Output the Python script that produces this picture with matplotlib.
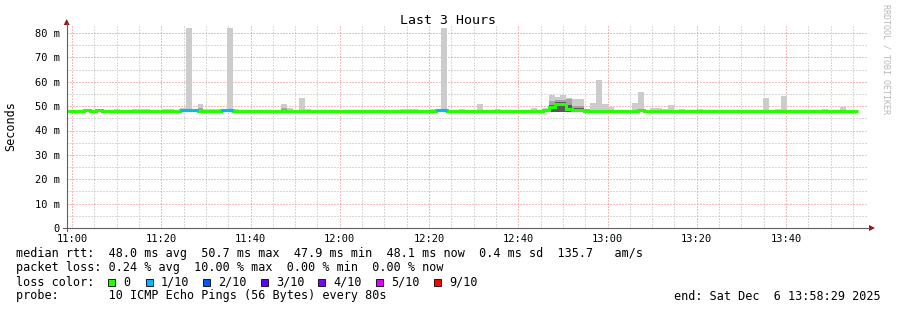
import matplotlib
matplotlib.use('Agg')
import matplotlib.pyplot as plt
from matplotlib.patches import Polygon, Rectangle
from matplotlib.lines import Line2D
from matplotlib.transforms import IdentityTransform

# time axis: minutes after 11:00, one value every 80 s
start_min = -1.2
step_min = 80 / 60.0

median = [
    48.0, 48.0, 48.0, 48.3, 48.0, 48.3, 48.0, 48.0, 48.0, 48.0,
    48.0, 48.0, 48.0, 48.0, 48.0, 48.0, 48.0, 48.0, 48.0, 48.3,
    48.3, 48.3, 47.8, 47.8, 47.8, 47.8, 48.3, 48.3, 48.0, 47.8,
    47.8, 47.8, 47.8, 48.0, 47.8, 47.8, 48.0, 47.8, 48.0, 47.8,
    47.8, 48.0, 47.8, 47.8, 48.0, 48.0, 48.0, 48.0, 48.0, 48.0,
    48.0, 47.8, 48.0, 48.0, 48.0, 47.8, 47.8, 47.8, 47.8, 48.0,
    48.0, 47.8, 48.3, 48.3, 48.0, 48.0, 48.0, 47.8, 48.0, 48.0,
    48.0, 48.0, 48.0, 47.8, 47.8, 48.0, 48.0, 47.8, 47.8, 48.0,
    48.3, 49.6, 50.7, 50.7, 48.8, 48.3, 48.6, 48.0, 48.0, 48.0,
    48.0, 47.8, 47.8, 48.0, 48.0, 48.0, 48.3, 47.8, 48.0, 47.8,
    47.8, 48.0, 48.0, 48.0, 47.8, 48.0, 48.0, 47.8, 48.0, 48.0,
    48.0, 48.0, 48.0, 48.0, 48.0, 48.0, 48.0, 48.0, 47.8, 48.0,
    48.0, 48.0, 48.0, 48.0, 48.0, 48.0, 48.0, 48.0, 48.0, 48.0,
    48.0, 48.0, 48.0,
]

smoke_hi = [
    48.3, 48.3, 48.3, 48.3, 48.3, 48.3, 48.3, 48.3, 48.8, 48.3,
    48.3, 48.7, 48.7, 48.7, 48.3, 48.3, 48.7, 48.7, 48.3, 49.2,
    82.0, 48.8, 50.9, 48.7, 48.7, 48.7, 48.3, 82.0, 48.8, 48.3,
    48.3, 48.3, 48.3, 48.3, 48.3, 48.3, 51.0, 49.2, 48.3, 53.3,
    49.0, 48.3, 48.3, 48.3, 48.3, 48.3, 48.3, 48.3, 48.3, 48.3,
    48.3, 48.3, 48.3, 48.3, 48.3, 48.3, 48.7, 48.7, 48.7, 48.3,
    48.3, 48.7, 48.3, 82.0, 48.3, 48.3, 48.8, 48.3, 48.3, 50.8,
    48.3, 48.3, 48.8, 48.3, 48.3, 48.3, 48.3, 48.3, 49.2, 48.3,
    49.2, 54.5, 53.8, 54.5, 53.5, 53.0, 53.0, 48.8, 51.2, 60.6,
    50.8, 49.6, 48.3, 48.3, 48.3, 51.2, 55.7, 48.3, 49.2, 49.2,
    48.8, 50.4, 48.3, 48.8, 48.3, 48.3, 48.8, 48.3, 48.3, 48.3,
    48.3, 48.3, 48.3, 48.3, 48.3, 48.3, 48.3, 53.3, 48.3, 48.8,
    54.1, 48.3, 48.3, 48.3, 48.3, 48.3, 48.3, 48.8, 48.3, 48.3,
    49.6, 48.3, 48.3,
]
smoke_lo = 47.6

mid_steps = [22, 36, 80, 81, 82, 83, 84, 85, 86, 87]
mid_hi = [49.2, 49.2, 48.8, 52.2, 52.5, 52.5, 53.0, 50.0, 50.0, 49.0]
dark_steps = [81, 82, 83, 84, 85, 86]
dark_hi = [50.4, 51.8, 51.8, 50.4, 49.2, 49.2]

loss_steps = [19, 20, 21, 26, 27, 62, 63]
loss_count = [1, 1, 1, 1, 1, 1, 1]

loss_labels = ['0', '1/10', '2/10', '3/10', '4/10', '5/10', '9/10']
loss_colors = ['#26ff00', '#00b8ff', '#0059ff', '#5e00ff', '#7e00ff', '#dd00ff', '#ff0000']
loss_index = {0: 0, 1: 1, 2: 2, 3: 3, 4: 4, 5: 5, 9: 6}

xticks = [0, 20, 40, 60, 80, 100, 120, 140, 160]
xticklabels = ['11:00', '11:20', '11:40', '12:00', '12:20', '12:40', '13:00', '13:20', '13:40']
yticks = [0, 10, 20, 30, 40, 50, 60, 70, 80]
yticklabels = ['0', '10 m', '20 m', '30 m', '40 m', '50 m', '60 m', '70 m', '80 m']

W, H = 897, 310
MONO = 'DejaVu Sans Mono'
plt.rcParams['font.family'] = MONO

fig = plt.figure(figsize=(W / 100, H / 100), dpi=100)
fig.patch.set_facecolor('white')


def fx(x):
    return x / W


def fy(y):
    return 1 - y / H


ax = fig.add_axes([fx(66.7), fy(228), (868 - 66.7) / W, (228 - 26) / H])
ax.set_xlim((66.7 - 72) / 4.4625, (868 - 72) / 4.4625)
ax.set_ylim(0, 202 / 2.4375)
for s in ax.spines.values():
    s.set_visible(False)

n = len(median)
starts = [start_min + k * step_min for k in range(n)]
edges = starts + [start_min + n * step_min]

# smoke
ax.bar(starts, [h - smoke_lo for h in smoke_hi], bottom=smoke_lo, width=step_min,
       align='edge', color='#cccccc', linewidth=0, zorder=2)
ax.bar([starts[k] for k in mid_steps], [h - smoke_lo for h in mid_hi], bottom=smoke_lo,
       width=step_min, align='edge', color='#a4a4a4', linewidth=0, zorder=3)
ax.bar([starts[k] for k in dark_steps], [h - smoke_lo for h in dark_hi], bottom=smoke_lo,
       width=step_min, align='edge', color='#585858', linewidth=0, zorder=4)

# median line coloured by loss
ax.stairs(median, edges, baseline=None, color=loss_colors[0], linewidth=2.2, zorder=5)
for k, c in zip(loss_steps, loss_count):
    ax.hlines(median[k], starts[k], starts[k] + step_min, color=loss_colors[loss_index[c]],
              linewidth=2.2, zorder=6, capstyle='butt')

# grid
ax.set_xticks(xticks)
ax.set_xticklabels(xticklabels)
ax.set_xticks(range(0, 180, 5), minor=True)
ax.set_yticks(yticks)
ax.set_yticklabels(yticklabels)
ax.set_yticks(range(5, 80, 10), minor=True)
ax.grid(which='minor', color='#b4b4b4', linestyle=(0, (1, 2)), linewidth=0.72, zorder=0)
ax.grid(which='major', color='#e87878', linestyle=(0, (1, 2)), linewidth=0.72, zorder=0)
ax.set_axisbelow(True)
ax.tick_params(which='both', length=0)
ax.tick_params(axis='y', pad=5, labelsize=7.5)
ax.tick_params(axis='x', pad=4, labelsize=7.5)

# axis lines and arrows in pixel space
idt = IdentityTransform()
fig.add_artist(Line2D([66.7, 66.7], [H - 231, H - 23], color='#606060', linewidth=0.8, transform=idt))
fig.add_artist(Line2D([63, 869], [H - 228, H - 228], color='#606060', linewidth=0.8, transform=idt))
fig.add_artist(Polygon([[63.7, H - 25], [69.7, H - 25], [66.7, H - 19]], closed=True,
                       facecolor='#8b1a1a', edgecolor='none', transform=idt))
fig.add_artist(Polygon([[869, H - 225], [869, H - 231], [875, H - 228]], closed=True,
                       facecolor='#8b1a1a', edgecolor='none', transform=idt))

# titles
fig.text(fx(448), fy(20), 'Last 3 Hours', ha='center', va='center', fontsize=9.5)
fig.text(fx(11), fy(126), 'Seconds', ha='center', va='center', rotation=90, fontsize=8.5)
fig.text(fx(886), fy(4), 'RRDTOOL / TOBI OETIKER', ha='center', va='top', rotation=270,
         fontsize=6, color='#b8b8b8')

# legend / stats block
fs = 8.5
fig.text(fx(16), fy(254), 'median rtt:  48.0 ms avg  50.7 ms max  47.9 ms min  48.1 ms now  0.4 ms sd  135.7   am/s',
         ha='left', va='center', fontsize=fs)
fig.text(fx(16), fy(268), 'packet loss: 0.24 % avg  10.00 % max  0.00 % min  0.00 % now',
         ha='left', va='center', fontsize=fs)
fig.text(fx(16), fy(282), 'loss color:', ha='left', va='center', fontsize=fs)
sq_x = [108, 145.7, 202.7, 261, 318, 376, 434]
for x0, lab, col in zip(sq_x, loss_labels, loss_colors):
    fig.add_artist(Rectangle((x0, H - 285.5), 7, 7, facecolor=col, edgecolor='#000000',
                             linewidth=0.6, transform=idt))
    fig.text(fx(x0 + 15), fy(282), lab, ha='left', va='center', fontsize=fs)
fig.text(fx(16), fy(296), 'probe:       10 ICMP Echo Pings (56 Bytes) every 80s',
         ha='left', va='center', fontsize=fs)
fig.text(fx(881), fy(296), 'end: Sat Dec  6 13:58:29 2025', ha='right', va='center', fontsize=fs)

fig.savefig('out.png', dpi=100, facecolor='white')
